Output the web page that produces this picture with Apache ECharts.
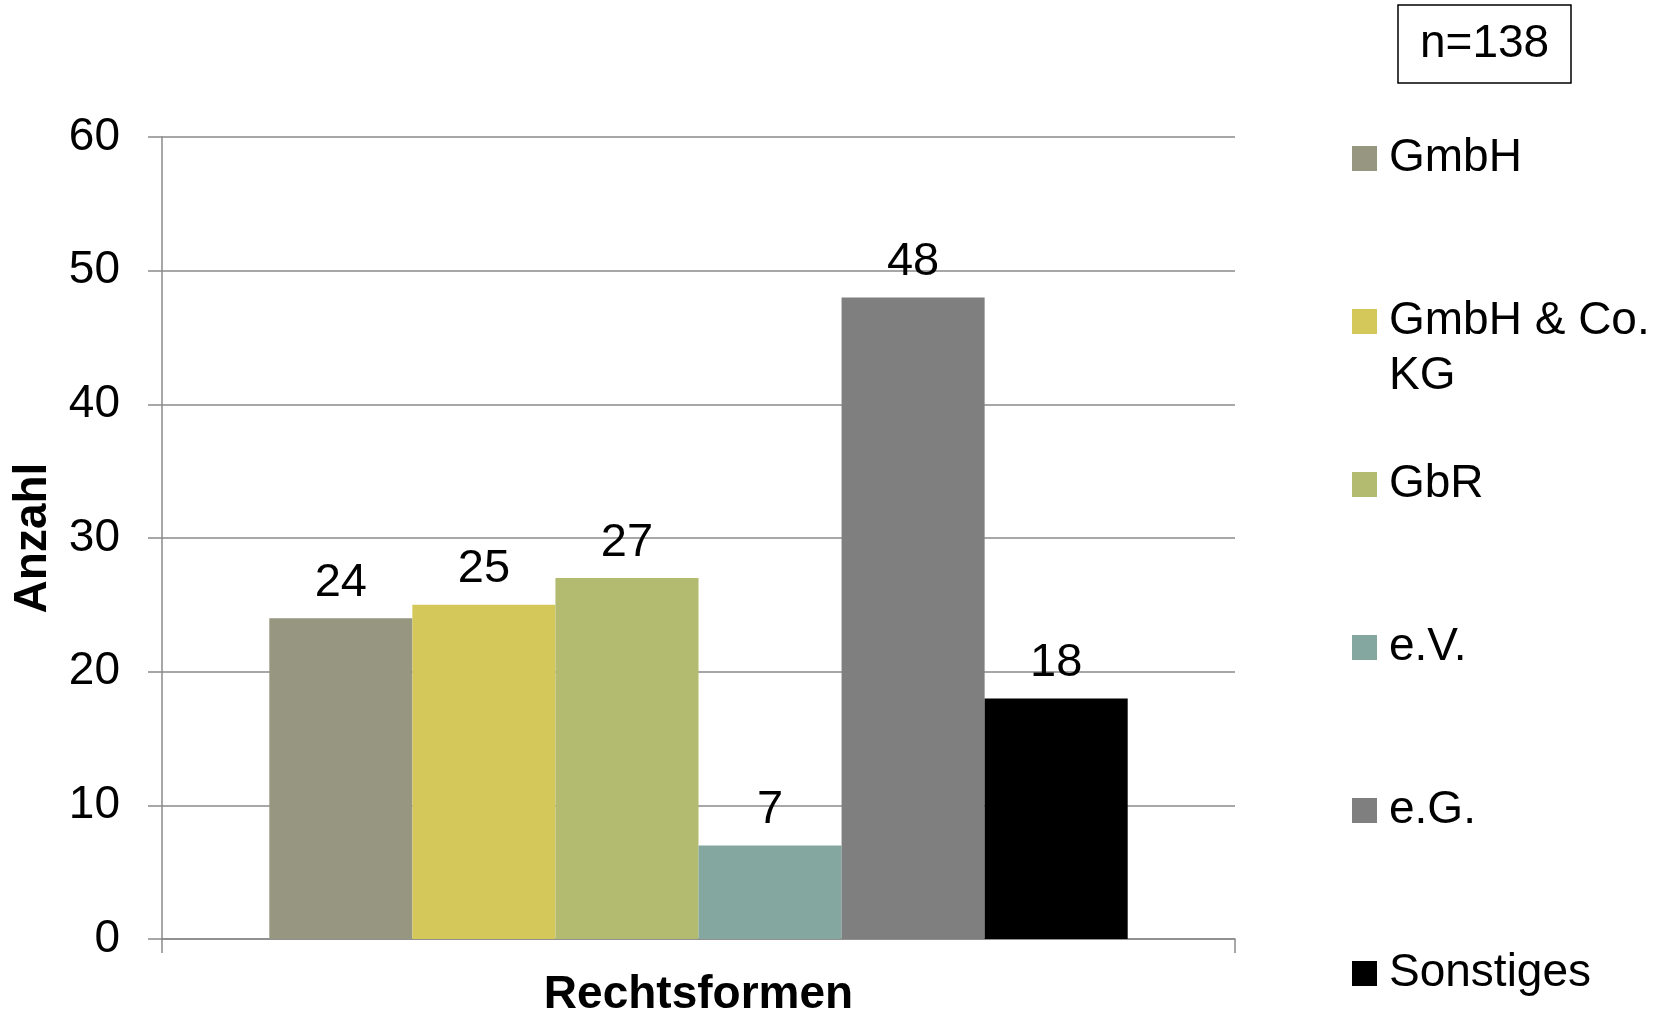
<!DOCTYPE html>
<html>
<head>
<meta charset="utf-8">
<script src="https://cdn.jsdelivr.net/npm/echarts@6/dist/echarts.min.js"></script>
<style>
  html, body { margin: 0; padding: 0; background: #fff; }
  #chart { width: 1673px; height: 1017px; }
</style>
</head>
<body>
<div id="chart"></div>
<script>
// Rechtsformen, n=138
const forms = ['GmbH', 'GmbH & Co. KG', 'GbR', 'e.V.', 'e.G.', 'Sonstiges'];
const counts = [24, 25, 27, 7, 48, 18];
const colors = ['#979680', '#D5C85A', '#B3BB71', '#84A8A0', '#7F7F7F', '#000000'];
const yTicks = [0, 10, 20, 30, 40, 50, 60];

const font = "'Liberation Sans', Arial, sans-serif";
const gray = '#8a8a8a';

const chart = echarts.init(document.getElementById('chart'));

// one legend per entry so the rows keep an even spacing
const legendCenters = [158.5, 321.5, 484.5, 647.5, 810.5, 973.5];
const lineH = 55;
const legends = forms.map((name, i) => {
  const twoLines = name === 'GmbH & Co. KG';
  const h = twoLines ? lineH * 3 : lineH;
  return {
    data: [name],
    orient: 'vertical',
    left: 1352,
    top: legendCenters[i] - h / 2,
    padding: 0,
    icon: 'rect',
    itemWidth: 25,
    itemHeight: 25,
    selectedMode: false,
    formatter: twoLines ? () => '\nGmbH & Co.\nKG' : '{name}',
    textStyle: {
      fontFamily: font,
      fontSize: 46,
      lineHeight: lineH,
      color: '#000',
      padding: [0, 0, 0, 7]
    }
  };
});

const series = forms.map((name, i) => ({
  name: name,
  type: 'bar',
  data: [counts[i]],
  barGap: '0%',
  barCategoryGap: '20%',
  itemStyle: { color: colors[i] },
  label: {
    show: true,
    position: 'top',
    distance: 12,
    fontFamily: font,
    fontSize: 47,
    color: '#000'
  }
}));

chart.setOption({
  animation: false,
  title: {
    text: 'n=138',
    left: 1398,
    top: 5,
    padding: [16, 22],
    borderColor: '#000',
    borderWidth: 1.5,
    textStyle: {
      fontFamily: font,
      fontSize: 46,
      lineHeight: 46,
      fontWeight: 'normal',
      color: '#000'
    }
  },
  legend: legends,
  grid: { left: 162, right: 438, top: 137, bottom: 78, outerBoundsMode: 'none', containLabel: false },
  xAxis: {
    type: 'category',
    data: [''],
    name: 'Rechtsformen',
    nameLocation: 'middle',
    nameGap: 33,
    nameTextStyle: { fontFamily: font, fontSize: 46, fontWeight: 'bold', color: '#000' },
    axisLine: { show: true, lineStyle: { color: gray, width: 1.5 } },
    axisTick: { show: true, length: 14, lineStyle: { color: gray, width: 1.5 } },
    axisLabel: { show: false }
  },
  yAxis: {
    type: 'value',
    min: yTicks[0],
    max: yTicks[yTicks.length - 1],
    interval: 10,
    name: 'Anzahl',
    nameLocation: 'middle',
    nameRotate: 90,
    nameGap: 106,
    nameTextStyle: { fontFamily: font, fontSize: 46, fontWeight: 'bold', color: '#000' },
    axisLine: { show: true, lineStyle: { color: gray, width: 1.5 } },
    axisTick: { show: true, length: 14, lineStyle: { color: gray, width: 1.5 } },
    axisLabel: { fontFamily: font, fontSize: 46, color: '#000', margin: 42 },
    splitLine: { show: true, lineStyle: { color: gray, width: 1.5 } }
  },
  series: series
});
</script>
</body>
</html>
